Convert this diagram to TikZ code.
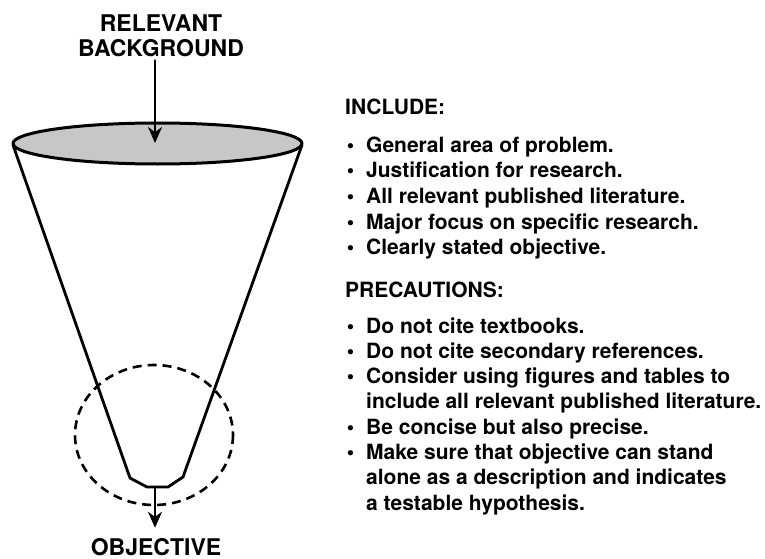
\documentclass[tikz,border=0pt]{standalone}
\usepackage{fontspec}
\setmainfont{TeX Gyre Heros}
\usetikzlibrary{arrows.meta}
\tikzset{
  head/.style={font=\fontsize{23}{25}\selectfont\bfseries, align=center, inner sep=0pt},
  item/.style={font=\fontsize{21}{25}\selectfont\bfseries, anchor=base west, inner sep=0pt},
  funnel/.style={line width=2.8pt},
}
\newcommand{\bul}{\llap{\textbullet\hspace{12pt}}}
\begin{document}
\begin{tikzpicture}[x=1pt, y=-1pt, >={Stealth[length=16pt,width=14pt]}, line join=round, line cap=round]
	\useasboundingbox (0,0) rectangle (765,559);
	\def\xl{13} \def\xr{302} \def\ytop{145}
	\coordinate (rim) at (155,143);
	\coordinate (tip) at (155,487);
	\draw[funnel] (\xl,\ytop) -- (130,478) -- (147,487) -- (168,487) -- (183,477) -- (\xr,\ytop);
	\filldraw[fill=black!22, line width=3pt] (157.5,143.5) ellipse (144.5 and 20.5);
	\draw[line width=2.6pt, dash pattern=on 9pt off 6pt, line cap=butt] (154,435) ellipse (79 and 70);
	\node[head, anchor=north] (title) at (161,15) {RELEVANT\\BACKGROUND};
	\node[head, anchor=base] (obj) at (156,555) {OBJECTIVE};
	\draw[->, line width=2.6pt] (rim |- title.south) ++(0,3) -- (rim);
	\draw[->, line width=2.6pt, shorten >=10pt] (tip) -- (tip |- obj.north);
	\node[item] (inc) at (345,115) {INCLUDE:};
	\foreach \t [count=\i] in {General area of problem., Justification for research.,
	  All relevant published literature., Major focus on specific research., Clearly stated objective.}
	  \node[item] (inc\i) at (366,152+25.7*\i-25.7) {\bul\t};
	\node[item] (pre) at (345,297) {PRECAUTIONS:};
	\foreach \t [count=\i] in {\bul Do not cite textbooks., \bul Do not cite secondary references.,
	  \bul Consider using figures and tables to, include all relevant published literature.,
	  \bul Be concise but also precise., \bul Make sure that objective can stand,
	  alone as a description and indicates, a testable hypothesis.}
	  \node[item] (pre\i) at (366,333+25.3*\i-25.3) {\t};
\end{tikzpicture}
\end{document}
